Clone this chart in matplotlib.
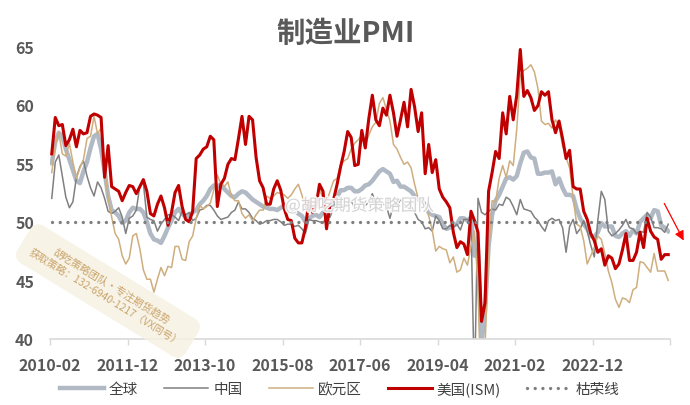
import matplotlib

matplotlib.use("Agg")
import matplotlib.pyplot as plt
import matplotlib.patheffects as pe

plt.rcParams["font.family"] = ["Noto Sans CJK SC", "DejaVu Sans"]

# monthly, 2010-02 .. 2024-09
months = [f"{2010 + (k + 1) // 12}-{(k + 1) % 12 + 1:02d}" for k in range(176)]

us_ism = [
    55.8, 58.9, 58.2, 58.3, 56.5, 57.0, 57.9, 56.4, 57.8, 57.5, 57.6,
    59.0, 59.2, 59.1, 58.9, 53.8, 56.5, 53.0, 52.8, 52.6, 51.8, 52.5, 53.1,
    53.0, 52.4, 53.0, 53.6, 52.6, 50.7, 50.5, 51.5, 52.2, 51.2, 49.7, 50.8,
    52.5, 53.1, 51.3, 50.2, 50.0, 50.9, 55.4, 55.7, 56.2, 56.4, 57.3, 57.0,
    51.3, 53.2, 53.7, 54.9, 55.4, 55.3, 57.1, 59.0, 56.6, 59.0, 58.7, 55.5,
    53.5, 52.9, 51.5, 51.5, 52.8, 53.5, 52.7, 51.1, 50.2, 50.1, 48.6, 48.2,
    48.2, 49.5, 51.8, 50.8, 51.3, 53.2, 52.6, 49.4, 51.5, 51.9, 53.2, 54.7,
    56.0, 57.7, 57.2, 54.8, 54.9, 57.8, 56.3, 58.8, 60.8, 58.7, 58.2, 59.7,
    59.1, 60.8, 59.3, 57.3, 58.7, 60.2, 58.1, 61.3, 59.8, 57.7, 59.3, 54.1,
    56.6, 54.2, 55.3, 52.8, 52.1, 51.7, 51.2, 49.1, 47.8, 48.3, 48.1, 47.2,
    50.9, 50.1, 49.1, 41.5, 43.1, 52.6, 54.2, 56.0, 55.4, 59.3, 57.5, 60.7,
    58.7, 60.8, 64.7, 60.7, 61.2, 60.6, 59.5, 59.9, 61.1, 60.8, 61.1, 58.7,
    57.6, 58.6, 57.1, 55.4, 56.1, 53.0, 52.8, 52.8, 50.9, 50.2, 49.0, 48.4,
    47.4, 47.7, 46.3, 47.1, 46.9, 46.0, 46.4, 47.6, 49.0, 46.7, 46.7, 47.4,
    49.1, 47.8, 50.3, 49.2, 48.7, 48.5, 46.8, 47.2, 47.2,
]

euro = [
    54.2, 56.6, 57.6, 55.8, 55.6, 56.7, 55.1, 53.7, 54.6, 55.3, 57.1,
    57.3, 59.0, 57.5, 58.0, 54.6, 52.0, 50.4, 49.0, 48.5, 47.1, 46.4, 46.9,
    48.8, 49.0, 47.7, 45.9, 45.1, 45.1, 44.0, 45.1, 46.1, 45.4, 46.2, 46.1,
    47.9, 47.9, 46.8, 46.7, 48.3, 48.8, 50.3, 51.4, 51.1, 51.3, 51.6, 52.7,
    54.0, 53.2, 53.0, 53.4, 52.2, 51.8, 51.8, 50.7, 50.3, 50.6, 50.1, 50.6,
    51.0, 51.0, 52.2, 52.0, 52.2, 52.5, 52.4, 52.3, 52.0, 52.3, 52.8, 53.2,
    52.3, 51.2, 51.6, 51.7, 51.5, 52.8, 52.0, 51.7, 52.6, 53.5, 53.7, 54.9,
    55.2, 55.4, 56.2, 56.7, 57.0, 57.4, 56.6, 57.4, 58.1, 58.5, 60.1, 60.6,
    59.6, 58.6, 56.6, 56.2, 55.5, 54.9, 55.1, 54.6, 53.2, 52.0, 51.8, 51.4,
    50.5, 49.3, 47.5, 47.9, 47.7, 47.6, 46.5, 47.0, 45.7, 45.9, 46.9, 46.3,
    47.9, 49.2, 44.5, 33.4, 39.4, 47.4, 51.8, 51.7, 53.7, 54.8, 53.8, 55.2,
    54.8, 57.9, 62.5, 62.9, 63.1, 63.4, 62.8, 61.4, 58.6, 58.3, 58.4, 58.0,
    58.7, 58.2, 56.5, 55.5, 54.6, 52.1, 49.8, 49.6, 48.4, 46.4, 47.1, 47.8,
    48.8, 48.5, 47.3, 45.8, 44.8, 43.4, 42.7, 43.5, 43.4, 43.1, 44.2, 44.4,
    46.6, 46.5, 46.1, 45.7, 47.3, 45.8, 45.8, 45.8, 45.0,
]

china = [
    52.0, 55.1, 55.7, 53.9, 52.1, 51.2, 51.7, 53.8, 54.7, 55.2, 53.9,
    52.9, 52.2, 53.4, 52.9, 52.0, 50.9, 50.7, 50.9, 51.2, 50.4, 49.0, 50.3,
    50.5, 51.0, 53.1, 53.3, 50.4, 50.2, 50.1, 49.2, 49.8, 50.2, 50.6, 50.6,
    50.4, 50.1, 50.9, 50.6, 50.8, 50.1, 50.3, 51.0, 51.1, 51.4, 51.4, 51.0,
    50.5, 50.2, 50.3, 50.4, 50.8, 51.0, 51.7, 51.1, 51.1, 50.8, 50.3, 50.1,
    49.8, 49.9, 50.1, 50.1, 50.2, 50.2, 50.0, 49.7, 49.8, 49.8, 49.6, 49.7,
    49.4, 49.0, 50.2, 50.1, 50.1, 50.0, 49.9, 50.4, 50.4, 51.2, 51.7, 51.4,
    51.3, 51.6, 51.8, 51.2, 51.2, 51.7, 51.4, 51.7, 52.4, 51.6, 51.8, 51.6,
    51.3, 50.3, 51.5, 51.4, 51.9, 51.5, 51.2, 51.3, 50.8, 50.2, 50.0, 49.4,
    49.5, 49.2, 50.5, 50.1, 49.4, 49.4, 49.7, 49.5, 49.8, 49.3, 50.2, 50.2,
    50.0, 35.7, 52.0, 50.8, 50.6, 50.9, 51.1, 51.0, 51.5, 51.4, 52.1, 51.9,
    51.3, 50.6, 51.9, 51.1, 51.0, 50.9, 50.4, 50.1, 49.6, 49.2, 50.1, 50.3,
    50.1, 50.2, 49.5, 47.4, 49.6, 50.2, 49.0, 49.4, 50.1, 49.2, 48.0, 47.0,
    50.1, 52.6, 51.9, 49.2, 48.8, 49.0, 49.3, 49.7, 50.2, 49.5, 49.4, 49.0,
    49.2, 49.1, 50.8, 50.4, 49.5, 49.5, 49.4, 49.1, 49.8,
]

world = [
    55.0, 56.8, 57.6, 57.3, 56.2, 55.3, 54.4, 53.5, 53.3, 54.3, 55.1,
    56.3, 57.3, 57.5, 56.2, 54.3, 52.2, 51.0, 50.8, 50.5, 49.9, 50.1, 50.8,
    51.2, 51.1, 51.1, 50.8, 50.0, 49.0, 48.5, 48.4, 48.2, 48.8, 49.5, 50.1,
    50.8, 51.1, 50.7, 50.4, 50.5, 50.8, 51.0, 51.5, 51.8, 52.2, 52.8, 53.1,
    53.0, 53.2, 52.8, 52.5, 52.2, 52.1, 52.4, 52.6, 52.5, 52.2, 51.9, 51.7,
    51.5, 51.3, 51.2, 51.1, 51.1, 51.0, 51.2, 51.4, 51.3, 51.0, 50.9, 50.7,
    50.5, 50.0, 50.3, 50.5, 50.6, 50.4, 50.8, 50.9, 51.1, 51.6, 52.1, 52.7,
    52.7, 52.9, 52.9, 52.6, 52.6, 52.8, 53.1, 53.2, 53.5, 53.9, 54.3, 54.5,
    54.3, 54.1, 53.4, 53.5, 53.0, 53.0, 52.8, 52.6, 52.2, 51.9, 51.7, 51.5,
    50.8, 50.6, 50.5, 50.4, 49.8, 49.4, 49.5, 49.7, 49.8, 50.3, 50.3, 50.1,
    50.4, 47.1, 47.6, 39.6, 42.4, 47.9, 50.6, 51.8, 52.3, 53.0, 53.7, 53.8,
    53.6, 53.9, 55.0, 55.9, 56.0, 55.5, 55.4, 54.1, 54.1, 54.2, 54.2, 54.3,
    53.2, 53.7, 52.9, 52.3, 52.3, 52.2, 51.1, 50.3, 49.8, 49.4, 48.8, 48.7,
    49.1, 49.9, 49.6, 49.6, 49.6, 48.8, 48.7, 49.0, 49.2, 48.8, 49.3, 49.0,
    50.0, 50.3, 50.6, 50.3, 51.0, 50.9, 49.7, 49.5, 49.2,
]

boom_bust = [50.0] * len(months)

yticks = [40, 45, 50, 55, 60, 65]
xtick_step = 22


def main() -> int:
    fig = plt.figure(figsize=(6.9, 4.06), dpi=100)
    ax = fig.add_axes([50 / 690, 66 / 406, 620 / 690, 293 / 406])

    xs = [k + 0.5 for k in range(len(months))]
    ax.plot(xs, world, color="#b0b9c4", lw=3.2, label="全球", solid_joinstyle="round")
    ax.plot(xs, china, color="#808080", lw=1.1, label="中国")
    ax.plot(xs, euro, color="#cfae7e", lw=1.1, label="欧元区")
    ax.plot(xs, us_ism, color="#c00000", lw=2.2, label="美国(ISM)", solid_joinstyle="round")
    ax.plot(xs, boom_bust, color="#7f7f7f", lw=2.4, linestyle=(0, (0.01, 2.3)),
            dash_capstyle="round", label="枯荣线")

    ax.set_xlim(0, len(months))
    ax.set_ylim(40, 65)
    tick_pos = list(range(0, len(months) + 1, xtick_step))
    ax.set_xticks(tick_pos)
    ax.set_xticklabels([months[p] if p < len(months) else "" for p in tick_pos])
    ax.set_yticks(yticks)
    for lab in ax.get_xticklabels() + ax.get_yticklabels():
        lab.set_fontweight("bold")
        lab.set_color("#595959")
        lab.set_fontsize(11.5)
    ax.tick_params(axis="x", length=4, width=1, color="#d9d9d9", pad=9)
    ax.tick_params(axis="y", length=0, pad=11.5)
    for side in ("left", "right", "top"):
        ax.spines[side].set_visible(False)
    ax.spines["bottom"].set_color("#d9d9d9")
    ax.spines["bottom"].set_linewidth(1.2)

    fig.text(346 / 690, 1 - 34 / 406, "制造业PMI", ha="center", va="center",
             fontsize=20.5, fontweight="bold", color="#595959")

    fig.legend(loc="center", bbox_to_anchor=(340 / 690, 16 / 406), ncol=5, frameon=False,
               fontsize=10.5, handlelength=3.0, handletextpad=0.35, columnspacing=1.8,
               labelcolor="#404040")

    # watermarks
    fig.text(108 / 690, 1 - 292 / 406,
             "胡吃策略团队·专注期货趋势\n获取策略：132-6940-1217（VX同号）",
             rotation=-31.5, rotation_mode="anchor", ha="center", va="center",
             fontsize=7.5, color="#c9a46a", linespacing=1.3,
             bbox=dict(boxstyle="round,pad=1.0", fc="#f7f1e3", ec="none", alpha=0.85))
    fig.text(285 / 690, 1 - 207 / 406, "@胡吃期货策略团队", ha="left", va="center",
             fontsize=12, color="#cfcfcf", alpha=0.9,
             path_effects=[pe.withStroke(linewidth=2, foreground="white")])

    # trend arrow
    ax.annotate("", xy=(685, 406 - 244), xycoords="figure pixels",
                xytext=(663, 406 - 202), textcoords="figure pixels",
                arrowprops=dict(arrowstyle="-|>", color="#ff0000", lw=0.9,
                                mutation_scale=14), annotation_clip=False)

    fig.savefig("out.png", dpi=100)
    return 0


if __name__ == "__main__":
    raise SystemExit(main())
